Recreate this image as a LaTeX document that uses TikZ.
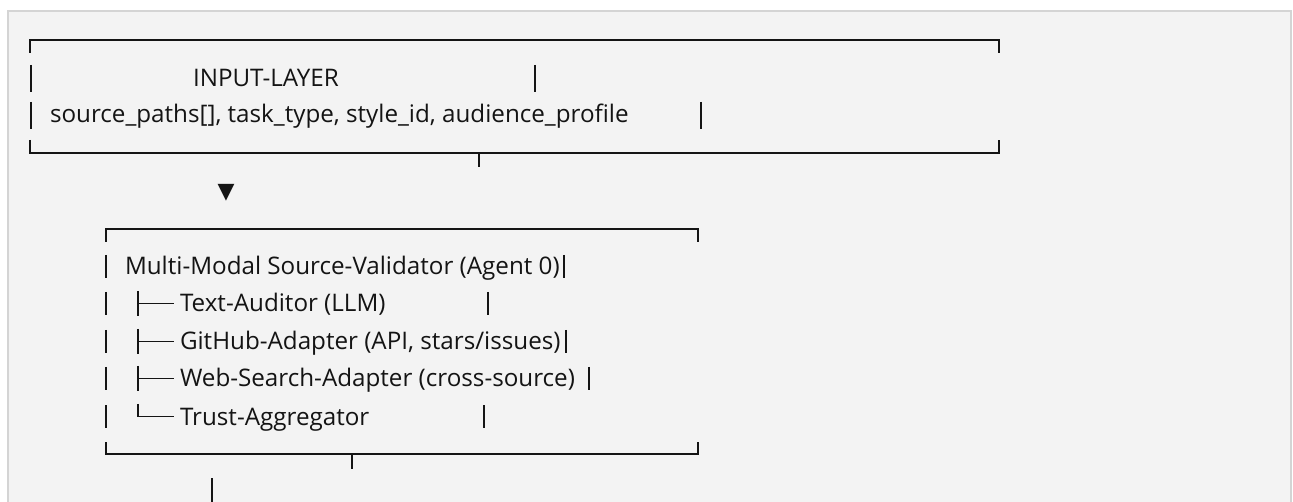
\documentclass[tikz,border=0pt]{standalone}
\usepackage{fontspec}
\setmainfont{Open Sans}
\newfontfamily\symfont{DejaVu Sans}
\definecolor{panel}{HTML}{F3F3F3}
\definecolor{panelrule}{HTML}{D4D4D4}
\definecolor{ink}{HTML}{141414}
\tikzset{
  lbl/.style={anchor=base west, inner sep=0pt, outer sep=0pt,
    font=\fontsize{24.2}{29}\selectfont, text=ink},
  frame/.style={draw=ink, line width=2.2pt},
  bar/.style={draw=ink, line width=1.7pt},
  tree/.style={draw=ink, line width=1.9pt},
}
\begin{document}
\begin{tikzpicture}[x=1pt,y=-1pt]
\clip (0,0) rectangle (1293,502);
\fill[white] (0,0) rectangle (1293,502);
% code-block panel
\draw[panelrule, fill=panel, line width=2pt] (8,11) rectangle (1291,530);

% ---- input layer box ----
\coordinate (in-tl) at (30,40);
\coordinate (in-br) at (999,153);
\draw[frame] (30,53) -- (in-tl) -- (999,40) -- (999,53);
\draw[frame] (30,140) -- (30,153) -- (in-br) -- (999,140);
\coordinate (in-out) at (479,153);
\coordinate (in-tick) at (479,167);
\draw[frame] (in-out) -- (in-tick);

\node[lbl] (inlayer) at (193,87) {INPUT-LAYER};
\node[lbl] (inparams) at (50,123) {source\_paths[], task\_type, style\_id, audience\_profile};
\draw[bar] (31,65) -- (31,92);
\draw[bar] (535,65) -- (535,92);
\draw[bar] (31,102) -- (31,129);
\draw[bar] (701,102) -- (701,129);

% ---- down arrow ----
\node[inner sep=0pt, text=ink, font=\symfont\fontsize{22}{22}\selectfont] (arrow) at (226,193) {▼};

% ---- validator box ----
\draw[frame] (106,242) -- (106,229) -- (698,229) -- (698,242);
\draw[frame] (106,442) -- (106,454) -- (698,454) -- (698,442);
\coordinate (val-out) at (352,454);
\coordinate (val-tick) at (352,469);
\draw[frame] (val-out) -- (val-tick);
\coordinate (next-top) at (212,478);
\coordinate (next-bot) at (212,510);
\draw[bar] (next-top) -- (next-bot);

\node[lbl] (agent) at (125,275) {Multi-Modal Source-Validator (Agent 0)};
\node[lbl] (auditor) at (180,312) {Text-Auditor (LLM)};
\node[lbl] (github) at (180,350) {GitHub-Adapter (API, stars/issues)};
\node[lbl] (websearch) at (180,387) {Web-Search-Adapter (cross-source)};
\node[lbl] (trust) at (180,425) {Trust-Aggregator};

% row bars (left, right)
\foreach \b/\r in {275/564, 312/488, 350/566, 387/589, 425/484}{
  \draw[bar] (106,\b-20) -- (106,\b+3);
  \draw[bar] (\r,\b-20) -- (\r,\b+3);
}
% tree branches
\foreach \b in {312, 350, 387}{
  \draw[tree] (138,\b-21) -- (138,\b+4);
  \draw[tree] (138,\b-8.5) -- (174,\b-8.5);
}
\draw[tree] (138,425-21) -- (138,425-8.5) -- (174,425-8.5);
\end{tikzpicture}
\end{document}
